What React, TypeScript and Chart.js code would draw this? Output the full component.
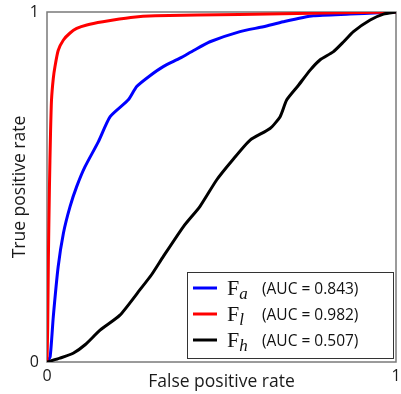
import React, { useEffect, useRef } from 'react';
import { Chart, registerables } from 'chart.js';

Chart.register(...registerables);

// F_a (blue)
const fprA = [0, 0.009, 0.018, 0.032, 0.047, 0.066, 0.085, 0.109, 0.147, 0.181, 0.233, 0.257, 0.295, 0.333, 0.381, 0.42, 0.467, 0.553, 0.62, 0.677, 0.763, 0.868, 0.95, 1];
const tprA = [0, 0.015, 0.129, 0.272, 0.368, 0.444, 0.501, 0.558, 0.629, 0.701, 0.749, 0.787, 0.818, 0.844, 0.868, 0.89, 0.915, 0.944, 0.958, 0.972, 0.989, 0.994, 0.998, 1];

// F_l (red)
const fprL = [0, 0.002, 0.004, 0.007, 0.01, 0.013, 0.018, 0.023, 0.032, 0.047, 0.066, 0.085, 0.114, 0.16, 0.24, 0.31, 0.55, 0.8, 1];
const tprL = [0, 0.1, 0.3, 0.5, 0.65, 0.75, 0.81, 0.845, 0.89, 0.92, 0.94, 0.953, 0.963, 0.972, 0.984, 0.989, 0.993, 0.997, 1];

// F_h (black)
const fprH = [0, 0.037, 0.075, 0.11, 0.152, 0.209, 0.266, 0.3, 0.333, 0.391, 0.438, 0.486, 0.53, 0.582, 0.639, 0.668, 0.687, 0.72, 0.754, 0.782, 0.82, 0.85, 0.878, 0.926, 0.964, 1];
const tprH = [0, 0.011, 0.025, 0.05, 0.091, 0.134, 0.206, 0.25, 0.301, 0.387, 0.444, 0.52, 0.575, 0.634, 0.667, 0.701, 0.749, 0.79, 0.834, 0.863, 0.886, 0.915, 0.944, 0.977, 0.994, 1];

const seriesBase = ['F', 'F', 'F'];
const seriesSub = ['a', 'l', 'h'];
const seriesAuc = ['0.843', '0.982', '0.507'];
const seriesColors = ['#0000ff', '#ff0000', '#000000'];
const seriesFpr = [fprA, fprL, fprH];
const seriesTpr = [tprA, tprL, tprH];
const drawOrder = [2, 1, 0];

const xTitle = 'False positive rate';
const yTitle = 'True positive rate';

const sansFont = '"Open Sans", "Noto Sans", sans-serif';

const framePlugin = {
  id: 'frame',
  beforeDatasetsDraw(chart: any) {
    const { ctx, chartArea } = chart;
    ctx.save();
    ctx.strokeStyle = '#7a7a7a';
    ctx.lineWidth = 1.5;
    ctx.strokeRect(chartArea.left, chartArea.top, chartArea.right - chartArea.left, chartArea.bottom - chartArea.top);
    ctx.restore();
  },
};

const legendPlugin = {
  id: 'customLegend',
  afterDraw(chart: any) {
    const { ctx, chartArea } = chart;
    const boxW = 206;
    const boxH = 86;
    const left = chartArea.right - 3 - boxW;
    const top = chartArea.bottom - 4 - boxH;
    ctx.save();
    ctx.fillStyle = '#ffffff';
    ctx.fillRect(left, top, boxW, boxH);
    ctx.strokeStyle = '#333333';
    ctx.lineWidth = 1;
    ctx.strokeRect(left + 0.5, top + 0.5, boxW, boxH);
    for (let i = 0; i < seriesBase.length; i++) {
      const cy = top + 16 + i * 26;
      ctx.strokeStyle = seriesColors[i];
      ctx.lineWidth = 3;
      ctx.beginPath();
      ctx.moveTo(left + 6, cy);
      ctx.lineTo(left + 30, cy);
      ctx.stroke();
      ctx.fillStyle = '#111111';
      ctx.textBaseline = 'alphabetic';
      ctx.font = '22px "Liberation Serif", serif';
      const fx = left + 40;
      ctx.fillText(seriesBase[i], fx, cy + 7);
      const fw = ctx.measureText(seriesBase[i]).width;
      ctx.font = 'italic 17px "Liberation Serif", serif';
      ctx.fillText(seriesSub[i], fx + fw, cy + 11);
      ctx.font = '15.5px ' + sansFont;
      ctx.fillText('(AUC = ' + seriesAuc[i] + ')', left + 75, cy + 6);
    }
    ctx.restore();
  },
};

export default function App() {
  const canvasRef = useRef<HTMLCanvasElement | null>(null);

  useEffect(() => {
    if (!canvasRef.current) return;
    const datasets = seriesBase.map((b, i) => ({
      label: b + '_' + seriesSub[i] + ' (AUC = ' + seriesAuc[i] + ')',
      data: seriesFpr[i].map((x, j) => ({ x, y: seriesTpr[i][j] })),
      borderColor: seriesColors[i],
      backgroundColor: seriesColors[i],
      borderWidth: 3,
      showLine: true,
      pointRadius: 0,
      tension: 0.2,
      order: drawOrder[i],
    }));
    const chart = new Chart(canvasRef.current, {
      type: 'scatter',
      data: { datasets },
      options: {
        animation: false,
        responsive: true,
        maintainAspectRatio: false,
        layout: { padding: { top: 12, right: 5, left: 0, bottom: 0 } },
        plugins: {
          legend: { display: false },
          tooltip: { enabled: false },
        },
        scales: {
          x: {
            type: 'linear',
            min: 0,
            max: 1,
            border: { display: false },
            grid: { display: false, drawTicks: false },
            ticks: {
              stepSize: 1,
              padding: 5,
              color: '#1a1a1a',
              font: { size: 16, family: sansFont },
              maxRotation: 0,
            },
            title: {
              display: true,
              text: xTitle,
              color: '#1a1a1a',
              font: { size: 17.5, family: sansFont },
              padding: { top: 0, bottom: 1 },
            },
            afterFit: (scale: any) => {
              scale.height = 32;
              scale.paddingLeft = 0;
              scale.paddingRight = 0;
            },
          },
          y: {
            type: 'linear',
            min: 0,
            max: 1,
            border: { display: false },
            grid: { display: false, drawTicks: false },
            ticks: {
              stepSize: 1,
              padding: 8,
              color: '#1a1a1a',
              font: { size: 16, family: sansFont },
            },
            title: {
              display: true,
              text: yTitle,
              color: '#1a1a1a',
              font: { size: 17.5, family: sansFont },
              padding: { top: 10, bottom: 0 },
            },
            afterFit: (scale: any) => {
              scale.width = 47;
              scale.paddingTop = 0;
              scale.paddingBottom = 0;
            },
          },
        },
      },
      plugins: [framePlugin, legendPlugin],
    });
    return () => chart.destroy();
  }, []);

  return (
    <div style={{ position: 'fixed', left: 0, top: 0, width: 401, height: 394, background: '#fff' }}>
      <canvas ref={canvasRef} />
    </div>
  );
}
